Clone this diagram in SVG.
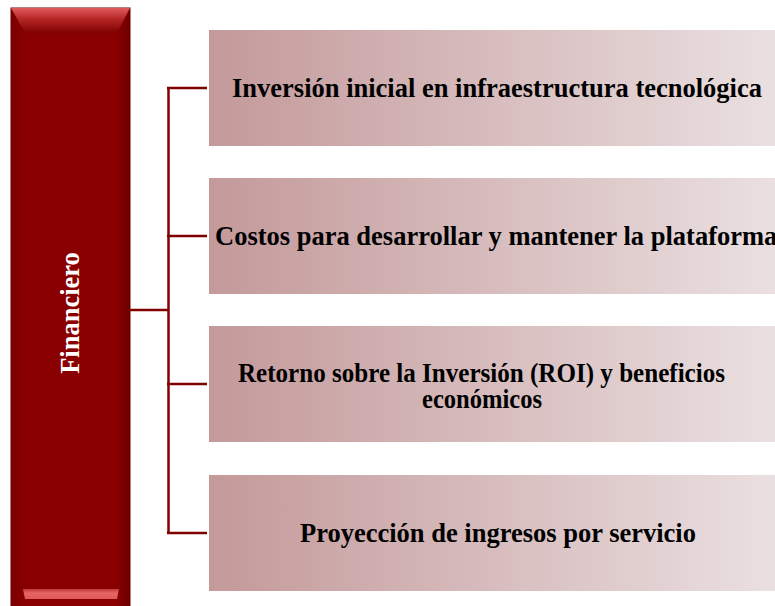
<svg xmlns="http://www.w3.org/2000/svg" width="775" height="606" viewBox="0 0 775 606">
  <defs>
    <linearGradient id="boxGrad" x1="209" y1="0" x2="785" y2="0" gradientUnits="userSpaceOnUse">
      <stop offset="0" stop-color="#c4999a"/>
      <stop offset="1" stop-color="#ebe1e2"/>
    </linearGradient>
    <linearGradient id="sideGrad" x1="0" y1="0" x2="1" y2="0">
      <stop offset="0" stop-color="#780000"/>
      <stop offset="0.12" stop-color="#8a0000"/>
      <stop offset="0.88" stop-color="#8a0000"/>
      <stop offset="1" stop-color="#6e0000"/>
    </linearGradient>
    <linearGradient id="topBevel" x1="0" y1="0" x2="0" y2="1">
      <stop offset="0" stop-color="#e05a5a"/>
      <stop offset="0.45" stop-color="#b52525"/>
      <stop offset="1" stop-color="#7e0000"/>
    </linearGradient>
    <linearGradient id="botBevel" x1="0" y1="0" x2="0" y2="1">
      <stop offset="0" stop-color="#c23a3a"/>
      <stop offset="0.4" stop-color="#e46464"/>
      <stop offset="1" stop-color="#e05a5a"/>
    </linearGradient>
  </defs>
  <style>
    .box { fill: url(#boxGrad); }
    .lbl { font-weight: bold; font-size: 26.5px; fill: #000000; }
    .conn { stroke: #800000; stroke-width: 2.5; fill: none; }
  </style>
  <rect width="775" height="606" fill="#ffffff"/>

  <g id="financiero">
    <rect x="11" y="8" width="119" height="600" fill="url(#sideGrad)" stroke="#6a0000" stroke-width="1"/>
    <polygon points="11,8 130,8 117,33 25,33" fill="url(#topBevel)"/>
    <polygon points="23,589 119,589 117,599 25,599" fill="url(#botBevel)"/>
    <text class="lbl" font-family="Liberation Serif, Times New Roman, serif" style="fill:#ffffff" text-anchor="middle" transform="translate(79,313) rotate(-90)">Financiero</text>
  </g>

  <g id="connectors">
    <line class="conn" x1="130" y1="310" x2="169" y2="310"/>
    <line class="conn" x1="168.5" y1="87" x2="168.5" y2="534"/>
    <line class="conn" x1="167" y1="88" x2="207" y2="88"/>
    <line class="conn" x1="167" y1="236" x2="207" y2="236"/>
    <line class="conn" x1="167" y1="384" x2="207" y2="384"/>
    <line class="conn" x1="167" y1="533" x2="207" y2="533"/>
  </g>

  <g id="node1">
    <rect class="box" x="209" y="30" width="576" height="116"/>
    <text class="lbl" font-family="Liberation Serif, Times New Roman, serif" x="497" y="97" text-anchor="middle">Inversión inicial en infraestructura tecnológica</text>
  </g>
  <g id="node2">
    <rect class="box" x="209" y="178" width="576" height="116"/>
    <text class="lbl" font-family="Liberation Serif, Times New Roman, serif" x="215" y="245">Costos para desarrollar y mantener la plataforma</text>
  </g>
  <g id="node3">
    <rect class="box" x="209" y="326" width="576" height="116"/>
    <text class="lbl" font-family="Liberation Serif, Times New Roman, serif" x="238" y="382" textLength="487" lengthAdjust="spacingAndGlyphs">Retorno sobre la Inversión (ROI) y beneficios</text>
    <text class="lbl" font-family="Liberation Serif, Times New Roman, serif" x="422" y="408" textLength="120" lengthAdjust="spacingAndGlyphs">económicos</text>
  </g>
  <g id="node4">
    <rect class="box" x="209" y="475" width="576" height="116"/>
    <text class="lbl" font-family="Liberation Serif, Times New Roman, serif" x="498" y="542" text-anchor="middle">Proyección de ingresos por servicio</text>
  </g>
</svg>
